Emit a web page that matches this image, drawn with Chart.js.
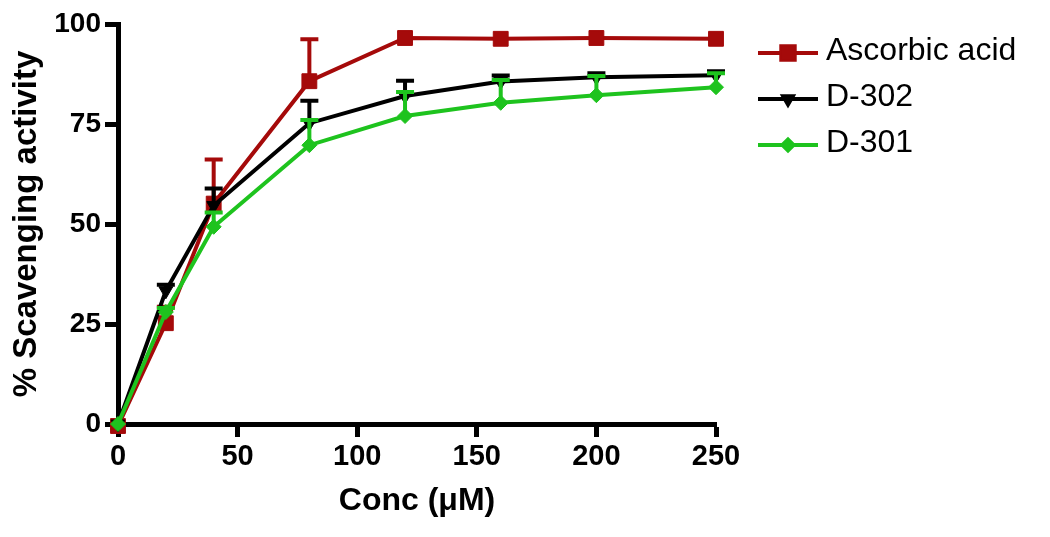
<!DOCTYPE html>
<html>
<head>
<meta charset="utf-8">
<script src="https://cdn.jsdelivr.net/npm/chart.js@4/dist/chart.umd.min.js"></script>
<style>
  body { margin: 0; background: #fff; }
  #wrap { width: 1050px; height: 537px; position: relative; }
</style>
</head>
<body>
<div id="wrap"><canvas id="myChart"></canvas></div>
<script>
// values
const concentrations = [0, 20, 40, 80, 120, 160, 200, 250];
const seriesNames = ["Ascorbic acid", "D-302", "D-301"];

const ascorbicMean = [-0.5, 25.2, 55.1, 85.7, 96.5, 96.3, 96.5, 96.3];
const ascorbicErr  = [0, 4.1, 11, 10.5, 0, 0, 0, 0];

const d302Mean = [0, 33.3, 54.6, 75.2, 82.0, 85.6, 86.7, 87.2];
const d302Err  = [0, 1.5, 4.3, 5.6, 3.8, 1.5, 1.0, 1.0];

const d301Mean = [0, 28, 49.3, 69.7, 77.0, 80.3, 82.2, 84.2];
const d301Err  = [0, 1, 3.6, 6.3, 6.0, 5.7, 4.8, 3.5];

const xTicks = [0, 50, 100, 150, 200, 250];
const yTicks = [0, 25, 50, 75, 100];

const colors = ["#a50a0a", "#000000", "#1ec31e"];

const FONT = "'Liberation Sans', Arial, sans-serif";

function toPoints(means) {
    return concentrations.map((c, i) => ({x: c, y: means[i]}));
}

// upward-only error bars with a cap, like the prism plot
const errorBars = {
    id: "errorBars",
    beforeDatasetDraw(chart, args) {
        const ds = chart.data.datasets[args.index];
        if (!ds.errors) return;
        const ctx = chart.ctx;
        const xs = chart.scales.x;
        const ys = chart.scales.y;
        ctx.save();
        ctx.strokeStyle = ds.borderColor;
        ctx.lineWidth = 4;
        ds.data.forEach((p, i) => {
            const e = ds.errors[i];
            if (!e) return;
            const px = xs.getPixelForValue(p.x);
            const py = ys.getPixelForValue(p.y);
            const top = ys.getPixelForValue(p.y + e);
            ctx.beginPath();
            ctx.moveTo(px, py);
            ctx.lineTo(px, top);
            ctx.moveTo(px - 9, top);
            ctx.lineTo(px + 9, top);
            ctx.stroke();
        });
        ctx.restore();
    }
};

// legend on the right: line with marker, then the name
const sideLegend = {
    id: "sideLegend",
    afterDraw(chart) {
        const ctx = chart.ctx;
        const rows = [53, 99, 145];
        const markerSize = [9.5, 5.5, 5.5];
        chart.data.datasets.forEach((ds, i) => {
            const y = rows[i];
            ctx.save();
            ctx.strokeStyle = ds.borderColor;
            ctx.lineWidth = 4;
            ctx.beginPath();
            ctx.moveTo(758, y);
            ctx.lineTo(818, y);
            ctx.stroke();
            ctx.fillStyle = ds.borderColor;
            Chart.helpers.drawPoint(ctx, {
                pointStyle: ds.pointStyle,
                rotation: ds.pointRotation || 0,
                radius: markerSize[i],
                borderWidth: 1
            }, 788, y);
            ctx.fill();
            ctx.fillStyle = "#000";
            ctx.font = "32px " + FONT;
            ctx.textBaseline = "middle";
            ctx.textAlign = "left";
            ctx.fillText(ds.label, 826, y - 2);
            ctx.restore();
        });
    }
};

const means = [ascorbicMean, d302Mean, d301Mean];
const errs = [ascorbicErr, d302Err, d301Err];
const styles = [
    {pointStyle: "rect", pointRadius: 10.5, pointRotation: 0},
    {pointStyle: "triangle", pointRadius: 8, pointRotation: 180},
    {pointStyle: "rectRot", pointRadius: 7.5, pointRotation: 0}
];

const datasets = seriesNames.map((name, i) => ({
    label: name,
    data: toPoints(means[i]),
    errors: errs[i],
    borderColor: colors[i],
    backgroundColor: colors[i],
    pointBackgroundColor: colors[i],
    pointBorderColor: colors[i],
    pointBorderWidth: 1,
    borderWidth: 4,
    tension: 0,
    clip: false,
    order: 3 - i,
    pointStyle: styles[i].pointStyle,
    pointRadius: styles[i].pointRadius,
    pointRotation: styles[i].pointRotation,
    pointHoverRadius: styles[i].pointRadius
}));

new Chart("myChart", {
    type: "line",
    data: {datasets: datasets},
    options: {
        responsive: true,
        maintainAspectRatio: false,
        animation: false,
        layout: {padding: {left: 0, top: 24, right: 334, bottom: 0}},
        plugins: {
            legend: {display: false},
            tooltip: {enabled: false}
        },
        scales: {
            x: {
                type: "linear",
                min: 0,
                max: 250,
                afterBuildTicks: s => { s.ticks = xTicks.map(v => ({value: v})); },
                afterFit: s => { s.height = 113; },
                grid: {drawOnChartArea: false, drawTicks: true, tickLength: 13, tickWidth: 5, tickColor: "#000", color: "#000"},
                border: {display: true, color: "#000", width: 5},
                ticks: {color: "#000", padding: 3, font: {family: FONT, size: 29, weight: "bold"}},
                title: {
                    display: true,
                    text: "Conc (\u03bcM)",
                    color: "#000",
                    padding: {top: 0, bottom: 17},
                    font: {family: FONT, size: 32, weight: "bold"}
                }
            },
            y: {
                min: 0,
                max: 100,
                afterBuildTicks: s => { s.ticks = yTicks.map(v => ({value: v})); },
                afterFit: s => { s.width = 118; },
                grid: {drawOnChartArea: false, drawTicks: true, tickLength: 13, tickWidth: 5, tickColor: "#000", color: "#000"},
                border: {display: true, color: "#000", width: 5},
                ticks: {color: "#000", padding: 4, font: {family: FONT, size: 28, weight: "bold"}},
                title: {
                    display: true,
                    text: "% Scavenging activity",
                    color: "#000",
                    padding: {top: 7, bottom: 0},
                    font: {family: FONT, size: 33, weight: "bold"}
                }
            }
        }
    },
    plugins: [errorBars, sideLegend]
});
</script>
</body>
</html>
